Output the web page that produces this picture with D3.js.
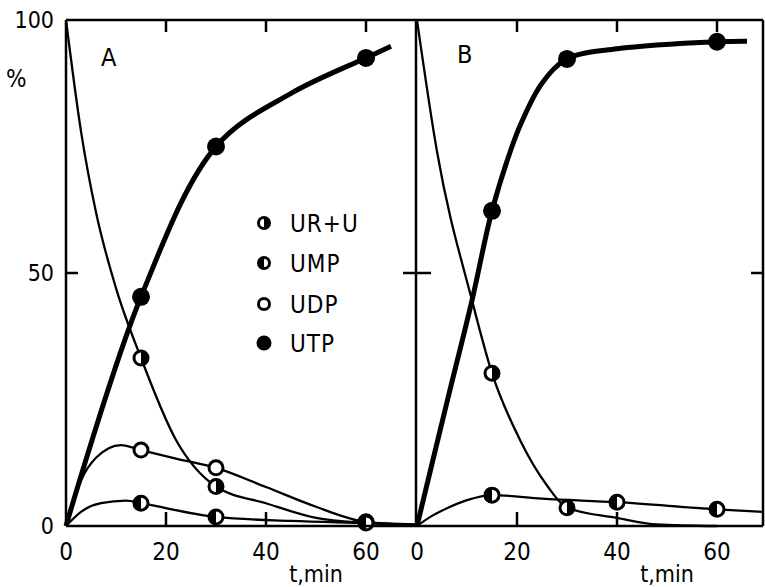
<!DOCTYPE html>
<meta charset="utf-8">
<head>
    <title>UR+U, UMP, UDP, UTP</title>
    <style>
        html, body {
            margin: 0;
            padding: 0;
            background: #fff;
        }
        svg text {
            font-family: "DejaVu Sans Condensed", "DejaVu Sans", sans-serif;
            fill: #000;
        }
        .frame line { stroke: #000; stroke-width: 2.5; }
        .curve { fill: none; stroke: #000; stroke-width: 2.3; }
        .curve.utp { stroke-width: 5; }
    </style>
</head>
<body>
    <svg id="chart" width="765" height="587"></svg>
    <script src="https://cdn.jsdelivr.net/npm/d3@7"></script>
    <script>
        // ticks
        const xTicks = [0, 20, 40, 60];
        const yTicks = [0, 50, 100];

        // panel A : points measured
        const utpA = [[15, 45.3], [30, 75], [60, 92.5]];
        const urA  = [[15, 33.2], [30, 7.8], [60, 0.8]];
        const udpA = [[15, 15], [30, 11.5], [60, 0.8]];
        const umpA = [[15, 4.5], [30, 1.8], [60, 0.6]];

        // panel A : drawn curves
        const utpALine = [[0, 0], [15, 45.3], [30, 75], [45, 85.5], [60, 92.5], [65, 94.8]];
        const urALine  = [[0, 100], [3, 78], [6, 62], [10, 47], [15, 33.2], [22, 17], [30, 7.8], [40, 4.5], [50, 1.6], [60, 0.6], [70, 0.2]];
        const udpALine = [[0, 0], [3, 9], [6, 13.5], [11, 16], [15, 15], [22, 13.3], [30, 11.5], [40, 7.7], [50, 3.8], [60, 0.8], [70, 0.2]];
        const umpALine = [[0, 0], [3, 2.8], [7, 4.5], [12, 5], [15, 4.5], [30, 1.8], [45, 1], [60, 0.6], [70, 0.3]];

        // panel B : points measured
        const utpB = [[15, 62.3], [30, 92.3], [60, 95.7]];
        const urB  = [[15, 30.2], [30, 3.6]];
        const umpB = [[15, 6.1], [40, 4.7], [60, 3.3]];

        // panel B : drawn curves
        const utpBLine = [[0, 0], [6, 24.5], [11, 44.6], [15, 62.3], [19, 75], [21, 80], [25, 87.5], [30, 92.3], [40, 94.3], [60, 95.7], [66, 95.8]];
        const urBLine  = [[0, 100], [4, 74], [11, 44.6], [15, 30.2], [20.6, 17], [26, 8], [30, 3.6], [40, 1.6], [48, 0.3], [60, 0]];
        const umpBLine = [[0, 0], [3, 2], [6, 3.5], [10, 5.1], [15, 6.1], [25, 5.4], [40, 4.7], [60, 3.3], [69.2, 2.8]];

        const legendNames = ['UR+U', 'UMP', 'UDP', 'UTP'];
        const legendKinds = ['right', 'left', 'open', 'full'];

        let svg = d3.select('#chart');

        let y = d3.scaleLinear().domain([0, 100]).range([526, 20]);
        let xA = d3.scaleLinear().domain([0, 70]).range([66, 416]);
        let xB = d3.scaleLinear().domain([0, 69.2]).range([417, 763]);

        function marker(g, kind, r) {
            if (kind === 'full') {
                g.append('circle').attr('r', r).attr('fill', '#000');
                return;
            }
            g.append('circle').attr('r', r).attr('fill', '#fff')
                .attr('stroke', '#000').attr('stroke-width', 3);
            if (kind === 'right') {
                g.append('path').attr('d', `M0,${-r}A${r},${r} 0 0 1 0,${r}Z`).attr('fill', '#000');
            } else if (kind === 'left') {
                g.append('path').attr('d', `M0,${-r}A${r},${r} 0 0 0 0,${r}Z`).attr('fill', '#000');
            }
        }

        function drawPanel(x, curves, points) {
            let line = d3.line()
                .x(d => x(d[0]))
                .y(d => y(d[1]))
                .curve(d3.curveMonotoneX);
            let smooth = d3.line()
                .x(d => x(d[0]))
                .y(d => y(d[1]))
                .curve(d3.curveCatmullRom.alpha(0.5));

            let g = svg.append('g');

            curves.forEach(c => {
                g.append('path')
                    .attr('class', 'curve ' + c.cls)
                    .attr('d', c.cls === 'utp' ? smooth(c.data) : line(c.data));
            });

            points.forEach(p => {
                p.data.forEach(d => {
                    let m = g.append('g')
                        .attr('transform', 'translate(' + x(d[0]) + ',' + y(d[1]) + ')');
                    marker(m, p.kind, p.kind === 'full' ? 9 : 7);
                });
            });

            // inward ticks top and bottom
            let fr = svg.append('g').attr('class', 'frame');
            [20, 40, 60].forEach(t => {
                fr.append('line').attr('x1', x(t)).attr('x2', x(t))
                    .attr('y1', y(100)).attr('y2', y(100) + 12);
            });
            [20, 40].forEach(t => {
                fr.append('line').attr('x1', x(t)).attr('x2', x(t))
                    .attr('y1', y(0)).attr('y2', y(0) - 14);
            });

            svg.append('g').selectAll('text')
                .data(xTicks)
                .join('text')
                .attr('x', d => x(d))
                .attr('y', 560)
                .attr('text-anchor', 'middle')
                .style('font-size', '24px')
                .text(d => d);

            svg.append('text')
                .attr('x', x(50))
                .attr('y', 582)
                .attr('text-anchor', 'middle')
                .style('font-size', '23px')
                .text('t,min');
        }

        drawPanel(xA,
            [{cls: 'ur', data: urALine}, {cls: 'udp', data: udpALine},
             {cls: 'ump', data: umpALine}, {cls: 'utp', data: utpALine}],
            [{kind: 'right', data: urA}, {kind: 'open', data: udpA},
             {kind: 'left', data: umpA}, {kind: 'full', data: utpA}]);

        drawPanel(xB,
            [{cls: 'ur', data: urBLine}, {cls: 'ump', data: umpBLine},
             {cls: 'utp', data: utpBLine}],
            [{kind: 'right', data: urB}, {kind: 'left', data: umpB},
             {kind: 'full', data: utpB}]);

        // frame
        let frame = svg.append('g').attr('class', 'frame');
        frame.append('line').attr('x1', 66).attr('x2', 763).attr('y1', y(100)).attr('y2', y(100));
        frame.append('line').attr('x1', 66).attr('x2', 763).attr('y1', y(0)).attr('y2', y(0));
        frame.append('line').attr('x1', 66).attr('x2', 66).attr('y1', y(100)).attr('y2', y(0));
        frame.append('line').attr('x1', 416).attr('x2', 416).attr('y1', y(100)).attr('y2', y(0));
        frame.append('line').attr('x1', 763).attr('x2', 763).attr('y1', y(100)).attr('y2', y(0));
        // 50% ticks
        frame.append('line').attr('x1', 66).attr('x2', 78).attr('y1', y(50)).attr('y2', y(50));
        frame.append('line').attr('x1', 403).attr('x2', 431).attr('y1', y(50)).attr('y2', y(50));
        frame.append('line').attr('x1', 751).attr('x2', 763).attr('y1', y(50)).attr('y2', y(50));

        // y labels
        svg.append('g').selectAll('text')
            .data(yTicks)
            .join('text')
            .attr('x', 54)
            .attr('y', d => y(d) + 8)
            .attr('text-anchor', 'end')
            .style('font-size', '23px')
            .text(d => d);

        svg.append('text').attr('x', 6).attr('y', 87)
            .style('font-size', '24px').text('%');

        svg.append('text').attr('x', 101).attr('y', 66)
            .style('font-size', '25px').text('A');
        svg.append('text').attr('x', 457).attr('y', 63)
            .style('font-size', '25px').text('B');

        // legend
        let leg = svg.append('g').selectAll('g')
            .data(legendNames)
            .join('g')
            .attr('transform', (d, i) => 'translate(264,' + [223, 263, 304, 343][i] + ')');
        leg.each(function (d, i) {
            marker(d3.select(this), legendKinds[i], legendKinds[i] === 'full' ? 7.5 : 5.5);
        });
        leg.append('text')
            .attr('x', 26)
            .attr('y', 9)
            .style('font-size', '24px')
            .style('letter-spacing', '1px')
            .text(d => d);
    </script>
</body>
</html>
